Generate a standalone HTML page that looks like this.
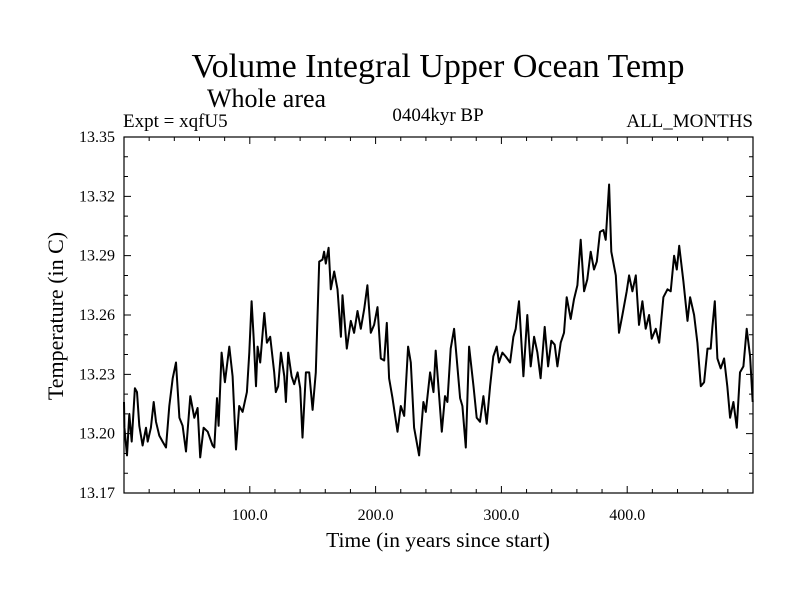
<!DOCTYPE html>
<html><head><meta charset="utf-8"><style>
body{margin:0;background:#fff}
svg text{font-family:"Liberation Serif",serif;fill:#000}
</style></head><body>
<svg id="chart" width="800" height="600" xmlns="http://www.w3.org/2000/svg">
<rect width="800" height="600" fill="#fff"/>
<text x="438" y="77" font-size="34" text-anchor="middle">Volume Integral Upper Ocean Temp</text>
<text x="207" y="107" font-size="26">Whole area</text>
<text x="123" y="127" font-size="19">Expt = xqfU5</text>
<text x="438" y="121" font-size="19" text-anchor="middle">0404kyr BP</text>
<text x="753" y="127" font-size="19" text-anchor="end">ALL_MONTHS</text>
<text x="438" y="547" font-size="21.5" text-anchor="middle">Time (in years since start)</text>
<text transform="translate(63,316) rotate(-90)" font-size="22" text-anchor="middle">Temperature (in C)</text>
<g id="axes"></g>
<g id="plot"></g>
</svg>
<script>
const years=[0,0.3,2.4,4.2,6.1,8.7,10.3,12.2,14.8,17.5,18.8,21.4,23.6,25.4,28.1,30.7,33.4,36.0,38.7,41.3,44.0,46.6,49.3,52.7,55.9,58.5,60.6,63.3,66.5,70.4,71.8,73.9,75.2,77.6,80.2,83.7,86.3,89.0,91.6,94.3,97.7,99.6,101.4,103.0,104.9,106.2,108.3,111.5,113.6,116.2,119.4,120.7,122.6,124.7,127.4,128.7,130.5,133.2,135.3,138.0,140.1,141.9,144.6,147.2,149.9,152.5,155.2,157.8,159.1,160.4,162.6,164.4,167.1,169.7,172.4,173.7,177.1,180.3,182.9,185.6,188.2,190.9,193.5,196.2,198.8,201.5,204.1,206.8,208.9,210.7,213.4,217.4,220.0,222.7,225.8,228.0,230.6,234.6,238.0,239.9,243.3,246.0,247.8,249.7,252.6,255.2,257.1,259.7,262.4,264.5,267.2,269.0,271.7,274.3,277.8,280.4,283.0,285.7,288.3,291.0,293.6,296.3,298.1,300.8,303.4,306.9,309.5,311.4,314.0,317.5,320.6,323.3,326.0,328.6,331.2,334.4,337.1,339.7,342.4,344.5,347.1,349.8,351.9,355.1,357.7,360.4,363.0,365.7,368.3,371.0,373.6,375.8,378.4,381.1,382.9,385.6,387.4,390.9,393.5,396.2,399.6,401.5,404.1,406.8,409.4,412.1,414.7,417.4,419.5,422.7,425.4,428.8,432.0,434.6,437.3,439.4,441.3,444.7,447.9,450.0,453.2,455.8,458.5,461.1,463.8,466.4,467.7,469.6,471.7,474.3,477.0,479.6,481.8,484.4,487.1,489.7,492.4,495.0,497.7,499.8];
const temps=[13.216,13.203,13.189,13.210,13.196,13.223,13.221,13.204,13.194,13.203,13.196,13.203,13.216,13.206,13.199,13.196,13.193,13.214,13.228,13.236,13.208,13.204,13.191,13.219,13.208,13.213,13.188,13.203,13.201,13.194,13.193,13.218,13.204,13.241,13.226,13.244,13.229,13.192,13.214,13.211,13.221,13.241,13.267,13.249,13.224,13.244,13.236,13.261,13.246,13.249,13.231,13.221,13.224,13.241,13.229,13.216,13.241,13.229,13.225,13.231,13.223,13.198,13.231,13.231,13.212,13.231,13.287,13.288,13.292,13.286,13.294,13.273,13.282,13.273,13.249,13.270,13.243,13.257,13.251,13.262,13.253,13.263,13.275,13.251,13.255,13.264,13.238,13.237,13.256,13.228,13.218,13.201,13.214,13.209,13.244,13.236,13.203,13.189,13.216,13.211,13.231,13.221,13.242,13.226,13.201,13.219,13.216,13.243,13.253,13.238,13.218,13.214,13.193,13.244,13.224,13.208,13.206,13.219,13.205,13.224,13.239,13.244,13.236,13.241,13.239,13.236,13.249,13.253,13.267,13.229,13.260,13.234,13.249,13.241,13.228,13.254,13.234,13.247,13.245,13.234,13.246,13.251,13.269,13.258,13.268,13.275,13.298,13.272,13.278,13.292,13.283,13.287,13.302,13.303,13.298,13.326,13.292,13.280,13.251,13.260,13.272,13.280,13.272,13.280,13.255,13.267,13.253,13.260,13.248,13.253,13.246,13.269,13.273,13.272,13.290,13.283,13.295,13.277,13.257,13.269,13.260,13.246,13.224,13.226,13.243,13.243,13.254,13.267,13.238,13.233,13.238,13.224,13.208,13.216,13.203,13.231,13.234,13.253,13.239,13.216];
const yTicks=[13.17,13.20,13.23,13.26,13.29,13.32,13.35];
const yTickLabels=["13.17","13.20","13.23","13.26","13.29","13.32","13.35"];
const xTicks=[100,200,300,400];
const xTickLabels=["100.0","200.0","300.0","400.0"];
const X0=124,X1=753,Y0=137,Y1=493,xMin=0,xMax=500,yMin=13.17,yMax=13.35;
const sx=v=>X0+(v-xMin)/(xMax-xMin)*(X1-X0);
const sy=v=>Y1-(v-yMin)/(yMax-yMin)*(Y1-Y0);
const NS="http://www.w3.org/2000/svg";
const axes=document.getElementById('axes'),plot=document.getElementById('plot');
function mk(tag,attrs,parent){const e=document.createElementNS(NS,tag);for(const k in attrs)e.setAttribute(k,attrs[k]);parent.appendChild(e);return e;}
const frame=mk('rect',{x:X0,y:Y0,width:X1-X0,height:Y1-Y0,fill:'none',stroke:'#000','stroke-width':1.2},axes);


for(let i=0;i<=18;i++){const v=yMin+i*0.01;const y=sy(v);const major=i%3===0;const L=major?7:4;
 const t=mk('path',{d:`M${X0},${y}h${L}M${X1},${y}h${-L}`,stroke:'#000','stroke-width':1},axes);
 
 }
yTicks.forEach((v,i)=>{const t=mk('text',{x:115,y:sy(v)+5,'font-size':16,'text-anchor':'end'},axes);t.textContent=yTickLabels[i];
 
 });
for(let v=20;v<500;v+=20){const x=sx(v);const major=v%100===0;const L=major?7:4;
 const t=mk('path',{d:`M${x},${Y1}v${-L}M${x},${Y0}v${L}`,stroke:'#000','stroke-width':1},axes);
 
 }
xTicks.forEach((v,i)=>{const t=mk('text',{x:sx(v),y:520,'font-size':16,'text-anchor':'middle'},axes);t.textContent=xTickLabels[i];
 
 });
const d=years.map((v,i)=>(i?'L':'M')+sx(v).toFixed(1)+','+sy(temps[i]).toFixed(1)).join('');
const line=mk('path',{d:d,fill:'none',stroke:'#000','stroke-width':2,'stroke-linejoin':'round'},plot);


</script>
</body></html>
